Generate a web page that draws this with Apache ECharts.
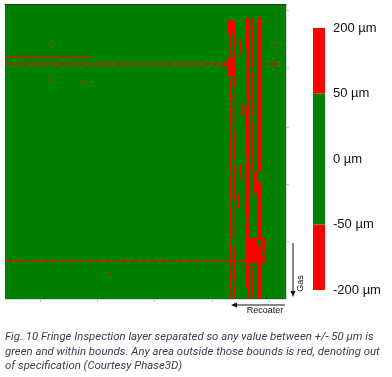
<!DOCTYPE html>
<html>
<head>
<meta charset="utf-8">
<script src="https://cdn.jsdelivr.net/npm/echarts@6/dist/echarts.min.js"></script>
<style>
  html, body { margin: 0; padding: 0; background: #fff; }
  #chart { width: 392px; height: 377px; }
</style>
</head>
<body>
<div id="chart"></div>
<script>
// ---------------------------------------------------------------------------
// Data (layer map in plot units, x 0..281 across, y 0..295 down; value in µm)
// ---------------------------------------------------------------------------
const layerWidth = 281;
const layerHeight = 295;

// [x0, x1, y0, y1, deviation µm]
const layerBlocks = [
    [0, 281, 0, 295, 4],            // whole layer, in spec
    // main wide stripe on the right
    [252, 257, 14, 168, 160],
    [248, 253, 168, 190, 140],
    [253, 257, 178, 234, 150],
    [243, 260, 234, 259, -130],
    [253, 256, 236, 242, 10],
    [257, 259, 245, 253, 12],
    [252, 257, 259, 295, 160],
    // solid stripe
    [243, 245, 14, 295, 120],
    // broken stripe left (x 224-227)
    [222, 228, 16, 30, 100],
    [224, 227, 30, 51, 110],
    [223, 228, 53, 72, 130],
    [224, 226, 74, 99, 110],
    [225, 227, 101, 130, 110],
    [224, 226, 132, 168, 110],
    [224, 227, 170, 200, 110],
    [225, 227, 202, 235, 110],
    [224, 227, 237, 263, 120],
    [224, 226, 265, 287, 110],
    [225, 227, 289, 295, 110],
    // thin broken stripe (x ~230)
    [229, 231, 18, 43, 90],
    [229, 231, 46, 84, 90],
    [229.5, 231, 88, 122, 90],
    [229, 230.5, 126, 156, 90],
    [229, 231, 160, 196, 90],
    [229.5, 231, 200, 236, 90],
    [229, 231, 242, 278, 90],
    [229, 231, 281, 295, 90],
    // thin broken stripe (x ~241)
    [240.5, 242, 14, 46, 90],
    [240.5, 241.5, 50, 98, 90],
    [240.5, 242, 102, 154, 90],
    [241, 242, 158, 214, 90],
    [240.5, 242, 218, 284, 90],
    // broken stripe (x ~248)
    [247, 249, 14, 64, 100],
    [247, 249, 67, 114, 100],
    [247, 249, 117, 168, 100],
    [247, 248.5, 262, 295, 100],
    // scattered between stripes
    [235, 237, 36, 50, 80],
    [236, 238, 100, 112, 80],
    [235, 236.5, 160, 175, 80],
    [236, 237, 210, 222, 80],
    [232, 233, 70, 96, 80],
    [233, 234, 190, 204, 80],
    [238, 239, 130, 146, 80],
    // horizontal artefacts
    [0, 84, 52, 53.2, 100],
    [217, 229, 58.5, 62, 120],
    [265, 272, 59, 61, 80],
    // specks
    [47, 48.5, 39, 41, 70],
    [44, 46, 75, 77, 70],
    [76.5, 78, 77, 79, 70],
    [104.5, 106, 269.5, 271, 70],
    [271, 272.5, 40, 42, 70]
];

// dashed streaks across the layer: [x0, y0, x1, y1, deviation µm]
const recoaterStreaks = [
    [0, 60.2, 228, 60.2, 90],
    [0, 256.8, 245, 256.8, 90]
];

// colour scale
const specLimits = [-50, 50];
const scaleBands = [[-200, -50], [-50, 0], [0, 50], [50, 200]];
const scaleLabels = ['-200 µm', '-50 µm', '0 µm', '50 µm', '200 µm'];

const xTicks = [35, 92, 149, 207, 264];
const yTicks = [6, 64, 123, 180, 237];

const caption = 'Fig. 10 Fringe Inspection layer separated so any value between +/- 50 µm is\n' +
    'green and within bounds. Any area outside those bounds is red, denoting out\n' +
    'of specification (Courtesy Phase3D)';

const GREEN = '#008000';
const RED = '#ff0000';

function specColor(v) {
    return (v < specLimits[0] || v > specLimits[1]) ? RED : GREEN;
}

// ---------------------------------------------------------------------------
// Chart
// ---------------------------------------------------------------------------
const chart = echarts.init(document.getElementById('chart'));

const edgeLine = { onZero: false, lineStyle: { color: '#d4d4d4', width: 1 } };
const edgeTick = { show: true, length: 3, lineStyle: { color: '#c8c8c8' } };

const option = {
    animation: false,
    grid: [
        { left: 5, top: 4, width: 281, height: 295 },
        { left: 313, top: 28, width: 12, height: 262 }
    ],
    xAxis: [
        {
            gridIndex: 0, type: 'value', min: 0, max: layerWidth, position: 'bottom', z: 5,
            axisLine: edgeLine,
            axisTick: Object.assign({ customValues: xTicks }, edgeTick),
            axisLabel: { show: false }, splitLine: { show: false }
        },
        {
            gridIndex: 0, type: 'value', min: 0, max: layerWidth, position: 'top', z: 5,
            axisLine: { onZero: false, lineStyle: { color: '#1a401a', width: 1 } },
            axisTick: { show: false }, axisLabel: { show: false }, splitLine: { show: false }
        },
        {
            gridIndex: 1, type: 'category', data: ['scale'],
            show: false
        }
    ],
    yAxis: [
        {
            gridIndex: 0, type: 'value', min: 0, max: layerHeight, inverse: true, position: 'right', z: 5,
            axisLine: edgeLine,
            axisTick: Object.assign({ customValues: yTicks }, edgeTick),
            axisLabel: { show: false }, splitLine: { show: false }
        },
        {
            gridIndex: 1, type: 'value', min: 0, max: scaleBands.length, interval: 1, position: 'right',
            axisLine: { show: false }, axisTick: { show: false }, splitLine: { show: false },
            axisLabel: {
                margin: 8, color: '#111', fontSize: 13, fontFamily: 'Liberation Sans, Arial, sans-serif',
                formatter: function(v) { return scaleLabels[v]; }
            }
        }
    ],
    series: [
        {
            type: 'custom',
            xAxisIndex: 0, yAxisIndex: 0,
            encode: { x: [0, 1], y: [2, 3] },
            data: layerBlocks,
            clip: true,
            renderItem: function(params, api) {
                const p0 = api.coord([api.value(0), api.value(2)]);
                const p1 = api.coord([api.value(1), api.value(3)]);
                return {
                    type: 'rect',
                    shape: {
                        x: Math.min(p0[0], p1[0]),
                        y: Math.min(p0[1], p1[1]),
                        width: Math.abs(p1[0] - p0[0]),
                        height: Math.abs(p1[1] - p0[1])
                    },
                    style: { fill: specColor(api.value(4)) }
                };
            }
        },
        {
            type: 'lines',
            coordinateSystem: 'cartesian2d',
            xAxisIndex: 0, yAxisIndex: 0,
            z: 3,
            data: recoaterStreaks.map(function(s) {
                return { coords: [[s[0], s[1]], [s[2], s[3]]], lineStyle: { color: specColor(s[4]) } };
            }),
            lineStyle: { width: 1.6, type: [7, 2], opacity: 1 }
        }
    ].concat(scaleBands.map(function(b) {
        return {
            type: 'bar',
            xAxisIndex: 2, yAxisIndex: 1,
            stack: 'scale',
            barWidth: '100%',
            data: [1],
            itemStyle: { color: specColor((b[0] + b[1]) / 2) }
        };
    })),
    graphic: [
        // gas flow arrow
        { type: 'line', shape: { x1: 293, y1: 243, x2: 293, y2: 292 }, style: { stroke: '#111', lineWidth: 1 } },
        { type: 'polygon', shape: { points: [[290.5, 291], [295.5, 291], [293, 297]] }, style: { fill: '#111' } },
        {
            type: 'text', x: 300.5, y: 283.5, rotation: Math.PI / 2,
            style: { text: 'Gas', fill: '#111', font: '9px Liberation Sans, Arial, sans-serif', align: 'center', verticalAlign: 'middle' }
        },
        // recoater arrow
        { type: 'line', shape: { x1: 236, y1: 305, x2: 285, y2: 305 }, style: { stroke: '#111', lineWidth: 1 } },
        { type: 'polygon', shape: { points: [[231, 305], [237, 302.5], [237, 307.5]] }, style: { fill: '#111' } },
        {
            type: 'text', x: 265, y: 311,
            style: { text: 'Recoater', fill: '#111', font: '9px Liberation Sans, Arial, sans-serif', align: 'center', verticalAlign: 'middle' }
        },
        // caption
        {
            type: 'text', left: 5, top: 330,
            style: {
                text: caption, fill: '#3a404c', lineHeight: 14.5,
                font: 'italic 11.4px Roboto, sans-serif'
            }
        }
    ]
};

chart.setOption(option);

window.addEventListener('resize', function() {
    chart.resize();
});
</script>
</body>
</html>
